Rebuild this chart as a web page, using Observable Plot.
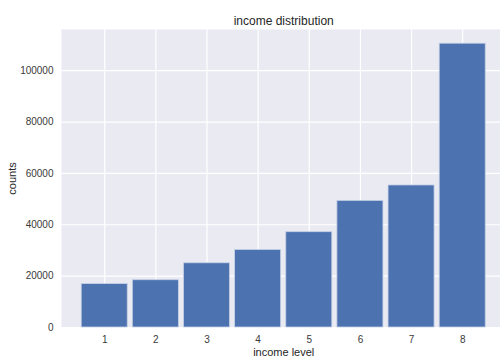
<!DOCTYPE html>
<html>
<head>
<meta charset="utf-8">
<script src="https://cdn.jsdelivr.net/npm/d3@7"></script>
<script src="https://cdn.jsdelivr.net/npm/@observablehq/plot@0.6"></script>
<style>
  html, body { margin: 0; padding: 0; background: #ffffff; }
  #chart { width: 500px; height: 363px; overflow: hidden; }
</style>
</head>
<body>
<div id="chart"></div>
<script>
const levels = [1, 2, 3, 4, 5, 6, 7, 8];
const counts = [16900, 18400, 25000, 30200, 37100, 49300, 55300, 110500];
const yTicks = [0, 20000, 40000, 60000, 80000, 100000];
const title = "income distribution";
const xLabel = "income level";
const yLabel = "counts";

const data = levels.map((l, i) => ({ level: l, count: counts[i] }));
const font = "'Liberation Sans', Arial, Helvetica, sans-serif";
const textColor = "#3a3a3a";

const chart = Plot.plot({
  width: 500,
  height: 363,
  marginLeft: 61,
  marginRight: 0,
  marginTop: 29,
  marginBottom: 36,
  style: { fontFamily: font, fontSize: "10px", color: textColor, background: "#ffffff", overflow: "visible" },
  x: { domain: [0.155, 8.739], ticks: levels, tickFormat: d => String(d), label: null },
  y: { domain: [0, 116025], ticks: yTicks, tickFormat: d => String(d), label: null },
  marks: [
    Plot.frame({ fill: "#eaeaf2", stroke: null }),
    Plot.ruleX(levels, { stroke: "#ffffff", strokeWidth: 1.2 }),
    Plot.ruleY(yTicks, { stroke: "#ffffff", strokeWidth: 1.2 }),
    Plot.rect(data, {
      x1: d => d.level - 0.45,
      x2: d => d.level + 0.45,
      y1: 0,
      y2: "count",
      fill: "#4c72b0",
      stroke: "#c6d1e6",
      strokeWidth: 0.8
    }),
    Plot.axisX({ ticks: levels, tickSize: 0, tickPadding: 8, fontSize: 10, tickFormat: d => String(d), label: null }),
    Plot.axisY({ ticks: yTicks, tickSize: 0, tickPadding: 8, fontSize: 10, tickFormat: d => String(d), label: null }),
    Plot.text([title], { x: 4.5, frameAnchor: "top", dy: -13, text: d => d, fontSize: 12, fill: "#262626" }),
    Plot.text([xLabel], { x: 4.5, frameAnchor: "bottom", dy: 28, text: d => d, fontSize: 11, fill: "#262626" }),
    Plot.text([yLabel], { frameAnchor: "left", textAnchor: "middle", dx: -49, rotate: -90, text: d => d, fontSize: 11, fill: "#262626" })
  ]
});
document.getElementById("chart").appendChild(chart);
</script>
</body>
</html>
